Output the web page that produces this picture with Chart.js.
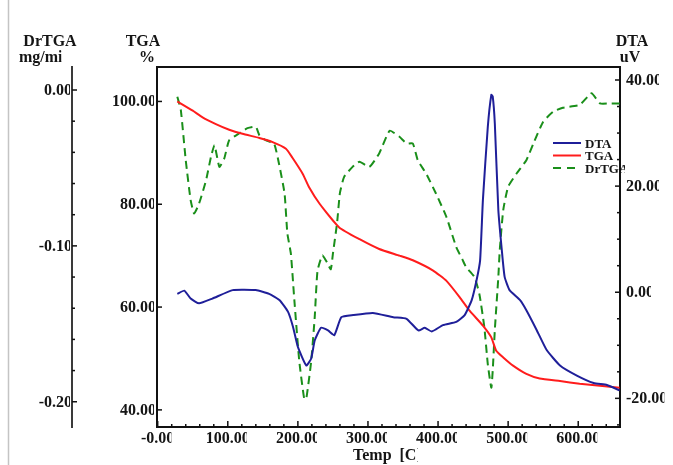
<!DOCTYPE html>
<html>
<head>
<meta charset="utf-8">
<title>TGA / DTA / DrTGA</title>
<script src="https://cdn.jsdelivr.net/npm/chart.js@4.4.1/dist/chart.umd.min.js"></script>
<style>
  html, body { margin: 0; padding: 0; background: #fff; }
  #grafico { display: block; }
</style>
</head>
<body>
<canvas id="grafico" width="673" height="465"></canvas>
<script>
// Curva DTA (uV)
const dtaTemp = [28, 38, 47, 59, 78, 107, 140, 159, 174, 186, 193, 200, 212, 219, 224, 233, 243, 252, 262, 279,
    307, 336, 355, 372, 381, 391, 407, 426, 438, 448, 455, 460, 464, 471, 476, 478, 481, 486, 491, 495,
    502, 517, 526, 541, 555, 574, 598, 622, 641, 659];
const dtaValores = [-0.3, 0.3, -1.2, -2.1, -1.2, 0.4, 0.4, -0.3, -1.5, -3.7, -6.5, -10.3, -13.8, -12.5, -9.1, -6.7, -7.2, -8.1, -4.7, -4.3,
    -3.9, -4.7, -5.0, -7.2, -6.7, -7.4, -6.2, -5.6, -4.3, -1.5, 2.3, 6.0, 17.4, 31.2, 37.2, 36.9, 31.8, 15.5, 7.9, 2.9,
    0.4, -1.5, -3.4, -7.2, -10.9, -13.8, -15.7, -17.1, -17.5, -18.5];

// Curva TGA (%)
const tgaTemp = [28, 50, 64, 83, 102, 121, 145, 164, 183, 192, 207, 216, 231, 259, 288, 316, 345, 364, 393, 412,
    431, 445, 464, 476, 483, 493, 507, 526, 545, 574, 602, 631, 659];
const tgaValores = [100.0, 98.2, 96.9, 95.6, 94.5, 93.7, 92.9, 92.1, 90.8, 89.1, 85.9, 83.3, 80.1, 75.5, 73.2, 71.3, 70.0, 69.1, 67.1, 65.1,
    61.9, 59.3, 56.4, 54.1, 51.5, 50.2, 48.6, 47.0, 46.1, 45.6, 45.1, 44.7, 44.3];

// Curva DrTGA (mg/min)
const drtgaTemp = [28, 33, 40, 47, 52, 59, 69, 76, 81, 88, 95, 102, 116, 128, 140, 145, 154, 166, 173, 181,
    185, 190, 195, 202, 209, 212, 219, 224, 228, 235, 242, 247, 250, 256, 260, 266, 278, 288, 302, 316,
    331, 345, 355, 364, 371, 383, 397, 412, 426, 435, 440, 452, 459, 466, 471, 476, 478, 481, 486, 488,
    493, 500, 512, 526, 536, 550, 564, 578, 602, 619, 631, 645, 659];
const drtgaValores = [-0.0043, -0.0129, -0.045, -0.0707, -0.0793, -0.0729, -0.0579, -0.0429, -0.0354, -0.0493, -0.0439, -0.0322, -0.0279, -0.0245, -0.0236, -0.0289, -0.0322, -0.0343, -0.0471, -0.0664,
    -0.092, -0.105, -0.135, -0.174, -0.198, -0.198, -0.174, -0.146, -0.116, -0.106, -0.111, -0.115, -0.105, -0.085, -0.066, -0.0557, -0.0493, -0.046, -0.0493, -0.0407,
    -0.0262, -0.030, -0.0343, -0.0343, -0.045, -0.0536, -0.0664, -0.0815, -0.1008, -0.109, -0.1136, -0.120, -0.131, -0.152, -0.176, -0.191, -0.180, -0.154, -0.120, -0.103,
    -0.077, -0.062, -0.0536, -0.045, -0.0343, -0.0204, -0.014, -0.0114, -0.0096, -0.0021, -0.0086, -0.0086, -0.0086];

// Marcas y etiquetas de los ejes
const tempTicks = [0, 100, 200, 300, 400, 500, 600];
const tempEtiquetas = ['-0.00', '100.00', '200.00', '300.00', '400.00', '500.00', '600.00'];
const tgaTicks = [100, 80, 60, 40];
const tgaEtiquetas = ['100.00', '80.00', '60.00', '40.00'];
const drtgaTicks = [0, -0.1, -0.2];
const drtgaEtiquetas = ['0.00', '-0.10', '-0.20'];
const dtaTicks = [40, 20, 0, -20];
const dtaEtiquetas = ['40.00', '20.00', '0.00', '-20.00'];
const series = ['DTA', 'TGA', 'DrTGA'];

document.addEventListener('DOMContentLoaded', function() {
    const colorDTA = '#1f1f99';
    const colorTGA = '#ff1c1c';
    const colorDr = '#1a8f1a';
    const fuente = 'bold 16px "Liberation Serif", "Times New Roman", serif';

    function puntos(xs, ys) {
        return xs.map((t, i) => ({ x: t, y: ys[i] }));
    }

    function linea(ctx, x1, y1, x2, y2) {
        ctx.beginPath();
        ctx.moveTo(x1, y1);
        ctx.lineTo(x2, y2);
        ctx.stroke();
    }

    // Texto cortado por la derecha, como en el original
    function texto(ctx, t, x, y, align, corte) {
        const w = ctx.measureText(t).width;
        const izq = align === 'center' ? x - w / 2 : (align === 'right' ? x - w : x);
        ctx.save();
        ctx.beginPath();
        ctx.rect(izq - 3, y - 22, w + 3 - corte, 30);
        ctx.clip();
        ctx.textAlign = 'left';
        ctx.textBaseline = 'alphabetic';
        ctx.fillText(t, izq, y);
        ctx.restore();
    }

    const marco = {
        id: 'marco',
        beforeDraw(chart) {
            const ctx = chart.ctx;
            ctx.save();
            ctx.fillStyle = '#fff';
            ctx.fillRect(0, 0, chart.width, chart.height);
            ctx.restore();
        },
        afterDraw(chart) {
            const { ctx, chartArea: a, scales } = chart;
            ctx.save();
            ctx.lineCap = 'butt';

            // linea superior y linea gris de la izquierda
            ctx.strokeStyle = '#111';
            ctx.lineWidth = 2;
            linea(ctx, a.left - 1, a.top, a.right + 1, a.top);
            ctx.strokeStyle = '#c4c4c4';
            ctx.lineWidth = 1.5;
            linea(ctx, 8.5, 0, 8.5, chart.height);

            // marcas hacia dentro
            ctx.strokeStyle = '#111';
            ctx.lineWidth = 1.5;
            const sx = scales.x;
            for (let v = 0; v <= 650; v += 20) {
                const px = sx.getPixelForValue(v);
                linea(ctx, px, a.bottom, px, a.bottom - (v % 100 === 0 ? 6 : 3));
            }
            const sT = scales.yTGA;
            tgaTicks.forEach(v => {
                const py = sT.getPixelForValue(v);
                linea(ctx, a.left, py, a.left + 5, py);
            });
            const sD = scales.yDr;
            const xDr = sD.right;
            for (let k = 0; k <= 10; k++) {
                const py = sD.getPixelForValue(-k * 0.02);
                linea(ctx, xDr, py, xDr + (k % 5 === 0 ? 5 : 3), py);
            }
            const sA = scales.yDTA;
            for (let v = -25; v <= 40; v += 5) {
                const py = sA.getPixelForValue(v);
                linea(ctx, a.right, py, a.right - (v % 20 === 0 ? 5 : 3), py);
            }

            // etiquetas de los ejes
            ctx.font = fuente;
            ctx.fillStyle = '#151515';
            tempTicks.forEach((v, i) => texto(ctx, tempEtiquetas[i], sx.getPixelForValue(v), a.bottom + 16, 'center', 3));
            tgaTicks.forEach((v, i) => texto(ctx, tgaEtiquetas[i], a.left - 1, sT.getPixelForValue(v) + 5, 'right', 2));
            drtgaTicks.forEach((v, i) => texto(ctx, drtgaEtiquetas[i], xDr, sD.getPixelForValue(v) + 5, 'right', 2));
            dtaTicks.forEach((v, i) => texto(ctx, dtaEtiquetas[i], a.right + 6, sA.getPixelForValue(v) + 5, 'left', 3));

            // titulos de los ejes
            texto(ctx, 'DrTGA', 50, 46, 'center', 0);
            texto(ctx, 'mg/min', 19, 62, 'left', 10);
            texto(ctx, 'TGA', 143, 46, 'center', 0);
            texto(ctx, '%', 147, 62, 'center', 0);
            texto(ctx, 'DTA', 632, 46, 'center', 0);
            texto(ctx, 'uV', 630, 62, 'center', 0);
            texto(ctx, 'Temp  [C]', 353, 460, 'left', 4);

            // leyenda
            const colores = [colorDTA, colorTGA, colorDr];
            const ys = [143, 155.5, 168];
            ctx.font = 'bold 13px "Liberation Serif", "Times New Roman", serif';
            series.forEach((nombre, i) => {
                ctx.strokeStyle = colores[i];
                ctx.lineWidth = 2;
                ctx.setLineDash(i === 2 ? [8, 6] : []);
                linea(ctx, 553, ys[i], 581, ys[i]);
                ctx.setLineDash([]);
                ctx.save();
                ctx.beginPath();
                ctx.rect(583, ys[i] - 12, 625 - 583, 20);
                ctx.clip();
                ctx.fillText(nombre, 585, ys[i] + 4.5);
                ctx.restore();
            });
            ctx.restore();
        }
    };

    const ctx = document.getElementById('grafico').getContext('2d');
    const grafico = new Chart(ctx, {
        type: 'line',
        data: {
            datasets: [{
                label: 'DTA',
                data: puntos(dtaTemp, dtaValores),
                borderColor: colorDTA,
                borderWidth: 2,
                yAxisID: 'yDTA'
            }, {
                label: 'TGA',
                data: puntos(tgaTemp, tgaValores),
                borderColor: colorTGA,
                borderWidth: 2,
                yAxisID: 'yTGA'
            }, {
                label: 'DrTGA',
                data: puntos(drtgaTemp, drtgaValores),
                borderColor: colorDr,
                borderWidth: 2,
                borderDash: [8, 5],
                yAxisID: 'yDr'
            }]
        },
        options: {
            responsive: false,
            animation: false,
            devicePixelRatio: 1,
            layout: { padding: { top: 67, left: 0, right: 0, bottom: 0 } },
            elements: {
                point: { radius: 0 },
                line: { tension: 0.15, fill: false }
            },
            plugins: {
                legend: { display: false },
                tooltip: { enabled: false }
            },
            scales: {
                x: {
                    type: 'linear',
                    position: 'bottom',
                    min: -1,
                    max: 659.6,
                    grid: { display: false },
                    ticks: { display: false },
                    border: { display: true, color: '#111', width: 2 },
                    afterFit: s => { s.height = 38; }
                },
                yTGA: {
                    type: 'linear',
                    position: 'left',
                    weight: 0,
                    min: 36.67,
                    max: 106.7,
                    grid: { display: false },
                    ticks: { display: false },
                    border: { display: true, color: '#111', width: 2 },
                    afterFit: s => { s.width = 85; }
                },
                yDr: {
                    type: 'linear',
                    position: 'left',
                    weight: 1,
                    min: -0.2162,
                    max: 0.01476,
                    grid: { display: false },
                    ticks: { display: false },
                    border: { display: true, color: '#3a3a3a', width: 2 },
                    afterFit: s => { s.width = 72; }
                },
                yDTA: {
                    type: 'linear',
                    position: 'right',
                    min: -25.4,
                    max: 42.45,
                    grid: { display: false },
                    ticks: { display: false },
                    border: { display: true, color: '#111', width: 2 },
                    afterFit: s => { s.width = 53; }
                }
            }
        },
        plugins: [marco]
    });
});
</script>
</body>
</html>
